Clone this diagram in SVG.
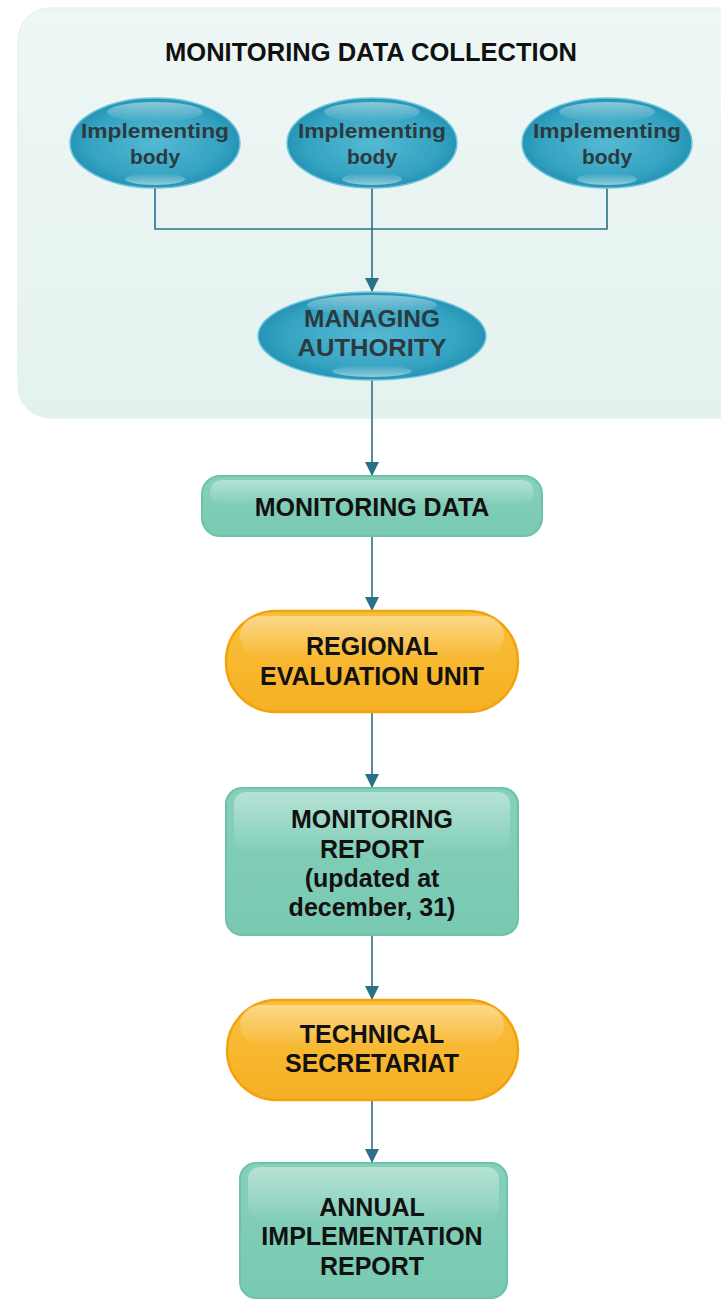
<svg xmlns="http://www.w3.org/2000/svg" width="721" height="1300" viewBox="0 0 721 1300">
<style>
text{font-family:"Liberation Sans",Arial,sans-serif;font-weight:bold;text-anchor:middle}
.t{font-size:25px;fill:#111}
.e{font-size:21px;fill:#2c3a40}
.m{font-size:24px;fill:#2c3a40}
.c{fill:none;stroke:#2b7089;stroke-width:1.6}
.green{fill:url(#gG);stroke:#6fc2aa;stroke-width:2}
.orange{fill:url(#gO);stroke:#f2a20c;stroke-width:2.5}
.ell{fill:url(#gB);stroke:#6ec6dc;stroke-width:1.5}
.hl{fill:url(#gH)}
</style>
<defs>
<linearGradient id="gP" x1="0" y1="0" x2="0" y2="1"><stop offset="0" stop-color="#eef7f5"/><stop offset="1" stop-color="#e4f2ef"/></linearGradient>
<linearGradient id="gG" x1="0" y1="0" x2="0" y2="1"><stop offset="0" stop-color="#86d0bb"/><stop offset="1" stop-color="#79c9b2"/></linearGradient>
<linearGradient id="gO" x1="0" y1="0" x2="0" y2="1"><stop offset="0" stop-color="#f9bf3c"/><stop offset="1" stop-color="#f6b024"/></linearGradient>
<radialGradient id="gB" cx="0.5" cy="0.5" r="0.55"><stop offset="0" stop-color="#55b9d3"/><stop offset="0.7" stop-color="#35a3c2"/><stop offset="1" stop-color="#1f8eaf"/></radialGradient>
<linearGradient id="gH" x1="0" y1="0" x2="0" y2="1"><stop offset="0" stop-color="#ffffff" stop-opacity="0.4"/><stop offset="1" stop-color="#ffffff" stop-opacity="0.03"/></linearGradient>
<linearGradient id="gE" x1="0" y1="0" x2="0" y2="1"><stop offset="0" stop-color="#ffffff" stop-opacity="0.45"/><stop offset="1" stop-color="#ffffff" stop-opacity="0"/></linearGradient>
<linearGradient id="gE2" x1="0" y1="0" x2="0" y2="1"><stop offset="0" stop-color="#ffffff" stop-opacity="0"/><stop offset="1" stop-color="#ffffff" stop-opacity="0.5"/></linearGradient>
<marker id="arr" markerUnits="userSpaceOnUse" markerWidth="16" markerHeight="14" refX="14" refY="7" orient="auto" viewBox="0 0 14 14"><path d="M0,0 L14,7 L0,14 Z" fill="#2b7089"/></marker>
</defs>

<g id="panel">
<rect x="18" y="8" width="730" height="410" rx="32" fill="url(#gP)" stroke="#e0efec" stroke-width="1"/>
<text class="t" x="371" y="61" textLength="412" lengthAdjust="spacingAndGlyphs">MONITORING DATA COLLECTION</text>
</g>

<g id="connectors">
<path class="c" d="M155,188 V229 H607 V188"/>
<path class="c" d="M372,188 V292" marker-end="url(#arr)"/>
<path class="c" d="M372,380 V476" marker-end="url(#arr)"/>
<path class="c" d="M372,536 V611" marker-end="url(#arr)"/>
<path class="c" d="M372,712 V788" marker-end="url(#arr)"/>
<path class="c" d="M372,935 V1000" marker-end="url(#arr)"/>
<path class="c" d="M372,1100 V1163" marker-end="url(#arr)"/>
</g>

<g id="ib1">
<ellipse class="ell" cx="155" cy="143" rx="85" ry="45"/>
<ellipse cx="155" cy="112" rx="48" ry="10" fill="url(#gE)"/>
<ellipse cx="155" cy="179" rx="30" ry="6" fill="url(#gE2)"/>
<text class="e" x="155" y="138" textLength="148" lengthAdjust="spacingAndGlyphs">Implementing</text>
<text class="e" x="155" y="164">body</text>
</g>
<g id="ib2">
<ellipse class="ell" cx="372" cy="143" rx="85" ry="45"/>
<ellipse cx="372" cy="112" rx="48" ry="10" fill="url(#gE)"/>
<ellipse cx="372" cy="179" rx="30" ry="6" fill="url(#gE2)"/>
<text class="e" x="372" y="138" textLength="148" lengthAdjust="spacingAndGlyphs">Implementing</text>
<text class="e" x="372" y="164">body</text>
</g>
<g id="ib3">
<ellipse class="ell" cx="607" cy="143" rx="85" ry="45"/>
<ellipse cx="607" cy="112" rx="48" ry="10" fill="url(#gE)"/>
<ellipse cx="607" cy="179" rx="30" ry="6" fill="url(#gE2)"/>
<text class="e" x="607" y="138" textLength="148" lengthAdjust="spacingAndGlyphs">Implementing</text>
<text class="e" x="607" y="164">body</text>
</g>

<g id="ma">
<ellipse class="ell" cx="372" cy="336" rx="114" ry="44"/>
<ellipse cx="372" cy="305" rx="65" ry="10" fill="url(#gE)"/>
<ellipse cx="372" cy="371" rx="40" ry="6" fill="url(#gE2)"/>
<text class="m" x="372" y="327" textLength="136" lengthAdjust="spacingAndGlyphs">MANAGING</text>
<text class="m" x="372" y="356" textLength="149" lengthAdjust="spacingAndGlyphs">AUTHORITY</text>
</g>

<g id="md">
<rect class="green" x="202" y="476" width="340" height="60" rx="18"/>
<rect class="hl" x="210" y="480" width="324" height="24" rx="12"/>
<text class="t" x="372" y="516">MONITORING DATA</text>
</g>

<g id="reu">
<rect class="orange" x="226" y="611" width="292" height="101" rx="50"/>
<rect class="hl" x="240" y="616" width="264" height="40" rx="20"/>
<text class="t" x="372" y="655">REGIONAL</text>
<text class="t" x="372" y="685">EVALUATION UNIT</text>
</g>

<g id="mr">
<rect class="green" x="226" y="788" width="292" height="147" rx="16"/>
<rect class="hl" x="234" y="792" width="276" height="58" rx="12"/>
<text class="t" x="372" y="828">MONITORING</text>
<text class="t" x="372" y="858">REPORT</text>
<text class="t" x="372" y="887">(updated at</text>
<text class="t" x="372" y="916">december, 31)</text>
</g>

<g id="ts">
<rect class="orange" x="227" y="1000" width="291" height="100" rx="50"/>
<rect class="hl" x="240" y="1005" width="264" height="40" rx="20"/>
<text class="t" x="372" y="1043">TECHNICAL</text>
<text class="t" x="372" y="1072">SECRETARIAT</text>
</g>

<g id="air">
<rect class="green" x="240" y="1163" width="267" height="135" rx="16"/>
<rect class="hl" x="248" y="1167" width="251" height="52" rx="12"/>
<text class="t" x="372" y="1216">ANNUAL</text>
<text class="t" x="372" y="1245">IMPLEMENTATION</text>
<text class="t" x="372" y="1275">REPORT</text>
</g>
</svg>
